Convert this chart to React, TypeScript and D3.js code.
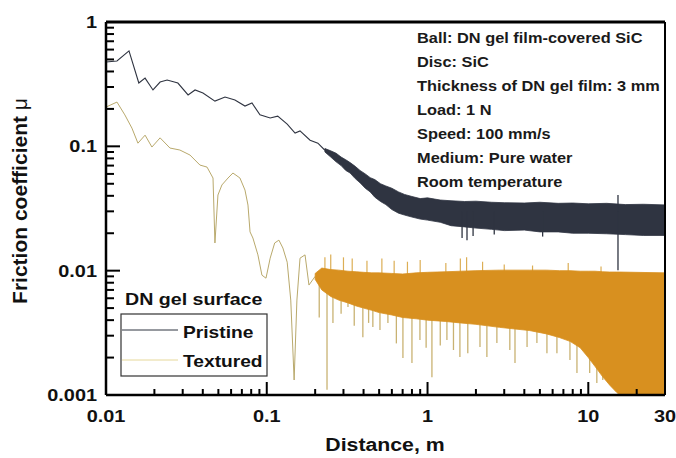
import React from "react";
import * as d3 from "d3";

// ---------- data ----------
// Pristine: individual trace before the dense noisy region
const pristineD = [0.01, 0.0117, 0.0139, 0.016, 0.0175, 0.0196, 0.0217, 0.024, 0.028, 0.0324, 0.0358, 0.0401, 0.0476, 0.055, 0.0634, 0.0732, 0.0809, 0.0907, 0.105, 0.117, 0.134, 0.15, 0.161, 0.186, 0.208, 0.23];
const pristineMu = [0.477, 0.486, 0.585, 0.323, 0.354, 0.284, 0.329, 0.341, 0.323, 0.259, 0.284, 0.268, 0.231, 0.249, 0.236, 0.211, 0.223, 0.179, 0.169, 0.175, 0.151, 0.128, 0.133, 0.112, 0.106, 0.093];
// Pristine: envelope of the dense noisy region
const pristineBandD = [0.23, 0.25, 0.27, 0.29, 0.31, 0.33, 0.355, 0.38, 0.41, 0.44, 0.47, 0.51, 0.55, 0.6, 0.66, 0.72, 0.8, 0.9, 1.0, 1.2, 1.4, 1.7, 2.0, 2.5, 3.0, 4, 5, 6.5, 8, 10, 13, 17, 22, 30];
const pristineBandHi = [0.096, 0.092, 0.088, 0.082, 0.078, 0.074, 0.069, 0.064, 0.06, 0.056, 0.054, 0.05, 0.048, 0.046, 0.043, 0.041, 0.0395, 0.038, 0.0385, 0.037, 0.0365, 0.036, 0.0362, 0.0355, 0.0352, 0.035, 0.0355, 0.0348, 0.035, 0.0345, 0.0348, 0.034, 0.0342, 0.0338];
const pristineBandLo = [0.09, 0.082, 0.075, 0.07, 0.064, 0.061, 0.055, 0.051, 0.046, 0.043, 0.039, 0.036, 0.034, 0.031, 0.029, 0.028, 0.027, 0.026, 0.0255, 0.0245, 0.023, 0.0225, 0.022, 0.0215, 0.021, 0.0212, 0.0205, 0.0205, 0.02, 0.02, 0.0198, 0.0195, 0.0192, 0.0192];
// Pristine spikes [distance, extreme value]
const pristineSpikeD = [1.64, 1.76, 1.92, 2.6, 5.2, 15.3, 15.3];
const pristineSpikeMu = [0.0183, 0.0176, 0.019, 0.0195, 0.0188, 0.0101, 0.0406];

// Textured: individual trace before the dense noisy region
const texturedD = [0.01, 0.0117, 0.0131, 0.0145, 0.0158, 0.0175, 0.0193, 0.0217, 0.025, 0.0288, 0.0333, 0.0384, 0.0425, 0.0463, 0.0476, 0.0497, 0.0526, 0.0574, 0.0616, 0.0681, 0.0732, 0.0764, 0.0787, 0.082, 0.0881, 0.0933, 0.0989, 0.105, 0.112, 0.119, 0.126, 0.134, 0.141, 0.148, 0.154, 0.161, 0.173, 0.183, 0.2];
const texturedMu = [0.207, 0.227, 0.179, 0.14, 0.106, 0.123, 0.0987, 0.117, 0.0969, 0.0934, 0.0851, 0.0707, 0.0681, 0.0556, 0.0167, 0.0406, 0.0489, 0.0556, 0.061, 0.0556, 0.0445, 0.0337, 0.0205, 0.0183, 0.0134, 0.0092, 0.0087, 0.0126, 0.0167, 0.0176, 0.0152, 0.0117, 0.0058, 0.00132, 0.0058, 0.0126, 0.0134, 0.00766, 0.009];
// Textured: envelope of the dense noisy region
const texturedBandD = [0.2, 0.22, 0.25, 0.28, 0.32, 0.36, 0.4, 0.45, 0.5, 0.6, 0.7, 0.85, 1.0, 1.3, 1.6, 2.0, 2.8, 4.3, 5.5, 6.6, 7.7, 8.9, 10, 11, 12.3, 13.6, 15, 15.7, 30];
const texturedBandHi = [0.0095, 0.0105, 0.0102, 0.0101, 0.0099, 0.0098, 0.0097, 0.0096, 0.0096, 0.0095, 0.0094, 0.0096, 0.0097, 0.0098, 0.0099, 0.01, 0.0101, 0.0101, 0.0101, 0.01, 0.01, 0.0099, 0.0099, 0.0099, 0.0098, 0.00975, 0.00975, 0.00975, 0.0096];
const texturedBandLo = [0.0085, 0.007, 0.0062, 0.0058, 0.0055, 0.0052, 0.005, 0.0048, 0.0046, 0.0044, 0.0042, 0.0041, 0.004, 0.0039, 0.0038, 0.0037, 0.0035, 0.0033, 0.0031, 0.0029, 0.0027, 0.0024, 0.002, 0.0017, 0.0014, 0.0012, 0.00105, 0.001, 0.001];
// Textured downward spikes
const texturedSpikeD = [0.212, 0.237, 0.258, 0.29, 0.32, 0.35, 0.396, 0.43, 0.457, 0.506, 0.567, 0.64, 0.703, 0.8, 0.897, 0.98, 1.065, 1.2, 1.32, 1.45, 1.59, 1.78, 2.12, 2.34, 2.7, 3.25, 3.5, 4.16, 4.79, 5.53, 6.38, 7.69, 8.5, 10.2, 11.3, 12.3, 14.2, 15.7];
const texturedSpikeMu = [0.0042, 0.0011, 0.00379, 0.0045, 0.0051, 0.0036, 0.00292, 0.0038, 0.00352, 0.00333, 0.00379, 0.0026, 0.00198, 0.00181, 0.00277, 0.0024, 0.00139, 0.0025, 0.00277, 0.0023, 0.00202, 0.00217, 0.00243, 0.00202, 0.00262, 0.0023, 0.00181, 0.00243, 0.00262, 0.00217, 0.00217, 0.00191, 0.0015, 0.0015, 0.00125, 0.00132, 0.00125, 0.00116];
// Textured upward spikes
const texturedUpD = [0.23, 0.25, 0.3, 0.34, 0.42, 0.52, 0.62, 0.75, 0.9, 1.3, 1.6, 1.75, 2.2, 3.0, 4.5, 7.5, 12];
const texturedUpMu = [0.0128, 0.0135, 0.0128, 0.0125, 0.012, 0.0125, 0.012, 0.0118, 0.0122, 0.0115, 0.0125, 0.0128, 0.0118, 0.0112, 0.011, 0.0115, 0.0108];

const xTickLabels = ["0.01", "0.1", "1", "10", "30"];
const xTickValues = [0.01, 0.1, 1, 10, 30];
const yTickLabels = ["0.001", "0.01", "0.1", "1"];
const yTickValues = [0.001, 0.01, 0.1, 1];
const conditions = [
  "Ball: DN gel film-covered SiC",
  "Disc: SiC",
  "Thickness of DN gel film: 3 mm",
  "Load: 1 N",
  "Speed: 100 mm/s",
  "Medium: Pure water",
  "Room temperature",
];
const legendTitle = "DN gel surface";
const seriesNames = ["Pristine", "Textured"];

// ---------- layout ----------
const W = 676;
const H = 458;
const L = 106, R = 665, T = 22, B = 395;
const FONT = "'Liberation Sans', Arial, Helvetica, sans-serif";
const SX = 1.17;

const C_PRISTINE = "#2f3441";
const C_TEXT_LINE = "#b9a96c";
const C_TEXT_BAND = "#d8901f";
const C_TEXT_SPIKE = "#c9b272";
const C_TEXT_UP = "#dcae55";

export default function App() {
  const x = d3.scaleLog().domain([0.01, 30]).range([L, R]);
  const y = d3.scaleLog().domain([0.001, 1]).range([B, T]);

  const pLine = d3.line<number>().x((d, i) => x(pristineD[i])).y((d) => y(d))(pristineMu) || "";
  const tLine = d3.line<number>().x((d, i) => x(texturedD[i])).y((d) => y(d))(texturedMu) || "";
  const pBand = d3.area<number>().x((d, i) => x(pristineBandD[i])).y0((d, i) => y(pristineBandLo[i])).y1((d) => y(d))(pristineBandHi) || "";
  const tBand = d3.area<number>().x((d, i) => x(texturedBandD[i])).y0((d, i) => y(texturedBandLo[i])).y1((d) => y(d))(texturedBandHi) || "";

  const xMinor: number[] = [];
  [0.01, 0.1, 1, 10].forEach((dec) => {
    for (let k = 2; k <= 9; k++) if (k * dec < 30) xMinor.push(k * dec);
  });
  const yMinor: number[] = [];
  [0.001, 0.01, 0.1].forEach((dec) => {
    for (let k = 2; k <= 9; k++) yMinor.push(k * dec);
  });

  const sText = (tx: number, ty: number, s = SX) => `translate(${tx},${ty}) scale(${s},1)`;

  return (
    <svg width={W} height={H} style={{ position: "absolute", left: 0, top: 0, background: "#fff" }} fontFamily={FONT}>
      <defs>
        <clipPath id="plot">
          <rect x={L} y={T} width={R - L} height={B - T} />
        </clipPath>
      </defs>
      <rect x={0} y={0} width={W} height={H} fill="#fff" />
      <g clipPath="url(#plot)">
        {/* textured spikes */}
        {texturedSpikeD.map((d, i) => (
          <line key={"ts" + i} x1={x(d)} x2={x(d)} y1={y(0.008)} y2={y(texturedSpikeMu[i])} stroke={C_TEXT_SPIKE} strokeWidth={1.3} />
        ))}
        {texturedUpD.map((d, i) => (
          <line key={"tu" + i} x1={x(d)} x2={x(d)} y1={y(0.009)} y2={y(texturedUpMu[i])} stroke={C_TEXT_UP} strokeWidth={1.2} />
        ))}
        <path d={tLine} fill="none" stroke={C_TEXT_LINE} strokeWidth={1} />
        <path d={tBand} fill={C_TEXT_BAND} stroke={C_TEXT_BAND} strokeWidth={0.8} />
        {/* pristine */}
        <path d={pLine} fill="none" stroke={C_PRISTINE} strokeWidth={1.1} />
        <path d={pBand} fill={C_PRISTINE} stroke={C_PRISTINE} strokeWidth={0.8} />
        {pristineSpikeD.map((d, i) => (
          <line key={"ps" + i} x1={x(d)} x2={x(d)} y1={y(0.03)} y2={y(pristineSpikeMu[i])} stroke={C_PRISTINE} strokeWidth={1.3} />
        ))}
      </g>

      {/* ticks */}
      {xMinor.map((v, i) => (
        <line key={"xm" + i} x1={x(v)} x2={x(v)} y1={B} y2={B - 6} stroke="#000" strokeWidth={2} />
      ))}
      {xTickValues.slice(0, 4).map((v, i) => (
        <line key={"xM" + i} x1={x(v)} x2={x(v)} y1={B} y2={B - 13} stroke="#000" strokeWidth={2} />
      ))}
      {yMinor.map((v, i) => (
        <line key={"ym" + i} x1={L} x2={L + 8} y1={y(v)} y2={y(v)} stroke="#000" strokeWidth={2} />
      ))}
      {yTickValues.map((v, i) => (
        <line key={"yM" + i} x1={L} x2={L + 14} y1={y(v)} y2={y(v)} stroke="#000" strokeWidth={2} />
      ))}

      {/* frame */}
      <line x1={L} x2={R} y1={T} y2={T} stroke="#000" strokeWidth={3} />
      <line x1={L} x2={R} y1={B} y2={B} stroke="#000" strokeWidth={2.5} />
      <line x1={L} x2={L} y1={T} y2={B} stroke="#000" strokeWidth={2.5} />
      <line x1={R} x2={R} y1={T} y2={B} stroke="#000" strokeWidth={2} />

      {/* tick labels */}
      {xTickValues.map((v, i) => (
        <text key={"xl" + i} transform={sText(x(v), 422)} textAnchor="middle" fontSize={17} fontWeight="bold" fill="#111">
          {xTickLabels[i]}
        </text>
      ))}
      {yTickValues.map((v, i) => (
        <text key={"yl" + i} transform={sText(97, y(v) + 6)} textAnchor="end" fontSize={17} fontWeight="bold" fill="#111">
          {yTickLabels[i]}
        </text>
      ))}

      {/* axis titles */}
      <text transform={sText(385, 451, 1.12)} textAnchor="middle" fontSize={19} fontWeight="bold" fill="#111">
        Distance, m
      </text>
      <text transform="translate(27,201) rotate(-90)" textAnchor="middle" fontSize={21} fontWeight="bold" fill="#111">
        Friction coefficient <tspan fontWeight="normal">μ</tspan>
      </text>

      {/* conditions */}
      {conditions.map((c, i) => (
        <text key={"c" + i} transform={sText(417, 43 + i * 24)} fontSize={14} fontWeight="bold" fill="#1a1a1a">
          {c}
        </text>
      ))}

      {/* legend */}
      <text transform={sText(125, 305, 1.19)} fontSize={16.5} fontWeight="bold" fill="#111">
        {legendTitle}
      </text>
      <rect x={121} y={314} width={146} height={62} fill="#fff" stroke="#333" strokeWidth={1.2} />
      <line x1={122} x2={178} y1={330} y2={330} stroke={C_PRISTINE} strokeWidth={1} />
      <line x1={122} x2={178} y1={360} y2={360} stroke="#e6d89a" strokeWidth={1} />
      <text transform={sText(183, 338, 1.2)} fontSize={16} fontWeight="bold" fill="#111">
        {seriesNames[0]}
      </text>
      <text transform={sText(183, 367, 1.2)} fontSize={16} fontWeight="bold" fill="#111">
        {seriesNames[1]}
      </text>
    </svg>
  );
}
